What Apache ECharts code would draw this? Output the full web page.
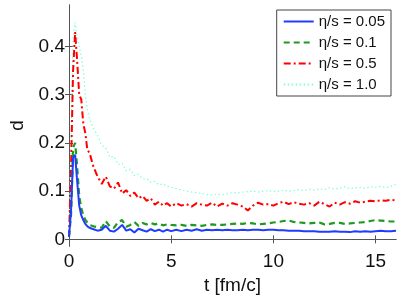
<!DOCTYPE html>
<html>
<head>
<meta charset="utf-8">
<script src="https://cdn.jsdelivr.net/npm/echarts@6/dist/echarts.min.js"></script>
<style>html,body{margin:0;padding:0;background:#fff}#c{width:409px;height:300px}</style>
</head>
<body>
<div id="c"></div>
<script>
const tValues = [
  0, 0.1, 0.2, 0.3, 0.4, 0.5, 0.6, 0.7, 0.8, 0.9, 1.0,
  1.2, 1.4, 1.6, 1.8, 2.0, 2.2, 2.4, 2.6, 2.8, 3.0, 3.2, 3.4, 3.6, 3.8, 4.0, 4.2, 4.4, 4.6, 4.8, 5.0,
  5.25, 5.5, 5.75, 6.0, 6.25, 6.5, 6.75, 7.0, 7.25, 7.5, 7.75, 8.0,
  8.25, 8.5, 8.75, 9.0, 9.25, 9.5, 9.75, 10.0, 10.25, 10.5, 10.75, 11.0,
  11.25, 11.5, 11.75, 12.0, 12.25, 12.5, 12.75, 13.0, 13.25, 13.5, 13.75, 14.0,
  14.25, 14.5, 14.75, 15.0, 15.25, 15.5, 15.75, 16.0
];
const eta005 = [
  0.005, 0.06, 0.17, 0.175, 0.12, 0.07, 0.05, 0.04, 0.032, 0.027, 0.024,
  0.021, 0.018, 0.02, 0.028, 0.018, 0.016, 0.022, 0.03, 0.018, 0.021, 0.014, 0.022, 0.019, 0.016, 0.021, 0.017, 0.02, 0.016, 0.02, 0.017,
  0.02, 0.017, 0.02, 0.018, 0.021, 0.018, 0.02, 0.019, 0.02, 0.019, 0.02, 0.019,
  0.019, 0.02, 0.019, 0.02, 0.02, 0.019, 0.02, 0.02, 0.019, 0.019, 0.018, 0.018,
  0.018, 0.017, 0.017, 0.017, 0.016, 0.016, 0.016, 0.017, 0.016, 0.016, 0.015, 0.017,
  0.016, 0.017, 0.016, 0.017, 0.018, 0.017, 0.017, 0.018
];
const eta01 = [
  0.005, 0.05, 0.19, 0.2, 0.15, 0.09, 0.065, 0.05, 0.04, 0.035, 0.03,
  0.027, 0.025, 0.024, 0.038, 0.026, 0.024, 0.036, 0.04, 0.026, 0.03, 0.036, 0.028, 0.034, 0.031, 0.034, 0.031, 0.033, 0.029, 0.031, 0.03,
  0.029, 0.03, 0.028, 0.03, 0.029, 0.028, 0.03, 0.031, 0.03, 0.03, 0.031, 0.032,
  0.033, 0.032, 0.034, 0.033, 0.031, 0.032, 0.033, 0.035, 0.036, 0.038, 0.039, 0.036,
  0.035, 0.034, 0.033, 0.034, 0.035, 0.031, 0.032, 0.034, 0.034, 0.032, 0.033, 0.034,
  0.035, 0.036, 0.038, 0.04, 0.039, 0.038, 0.037, 0.037
];
const eta05 = [
  0.005, 0.15, 0.35, 0.43, 0.37, 0.3, 0.29, 0.24, 0.22, 0.185, 0.18,
  0.15, 0.13, 0.115, 0.13, 0.11, 0.105, 0.118, 0.095, 0.102, 0.09, 0.097, 0.085, 0.09, 0.08, 0.085, 0.072, 0.078, 0.07, 0.075, 0.068,
  0.075, 0.07, 0.073, 0.068, 0.075, 0.072, 0.07, 0.076, 0.068, 0.074, 0.07, 0.075,
  0.072, 0.068, 0.06, 0.07, 0.076, 0.072, 0.073, 0.07, 0.075, 0.078, 0.073, 0.077,
  0.074, 0.072, 0.075, 0.07, 0.078, 0.073, 0.068, 0.076, 0.072, 0.077, 0.074, 0.079,
  0.076, 0.078, 0.08, 0.079, 0.081, 0.08, 0.082, 0.081
];
const eta10 = [
  0.01, 0.2, 0.42, 0.45, 0.42, 0.40, 0.38, 0.35, 0.3, 0.27, 0.25,
  0.23, 0.215, 0.195, 0.19, 0.17, 0.172, 0.155, 0.158, 0.142, 0.145, 0.132, 0.135, 0.125, 0.126, 0.118, 0.12, 0.113, 0.115, 0.11, 0.108,
  0.105, 0.102, 0.1, 0.098, 0.097, 0.095, 0.093, 0.092, 0.094, 0.092, 0.095, 0.097,
  0.096, 0.098, 0.099, 0.1, 0.098, 0.1, 0.101, 0.099, 0.1, 0.102, 0.1, 0.101,
  0.103, 0.101, 0.104, 0.102, 0.105, 0.103, 0.107, 0.104, 0.106, 0.109, 0.105, 0.107,
  0.108, 0.106, 0.109, 0.108, 0.11, 0.107, 0.11, 0.114
];
const seriesNames = ['η/s = 0.05', 'η/s = 0.1', 'η/s = 0.5', 'η/s = 1.0'];
const xTicks = [0, 5, 10, 15];
const yTicks = [0, 0.1, 0.2, 0.3, 0.4];

const pair = arr => tValues.map((t, i) => [t, arr[i]]);
const font = 'Liberation Sans, Arial, Helvetica, sans-serif';
const tickStyle = vals => ({ show: true, inside: true, length: 4, lineStyle: { color: '#555' }, customValues: vals });
const axisLine = { show: true, lineStyle: { color: '#555', width: 1 } };
const chart = echarts.init(document.getElementById('c'), null, { renderer: 'canvas' });
chart.setOption({
  animation: false,
  backgroundColor: '#fff',
  grid: { left: 58, right: 13, top: 5, bottom: 46, containLabel: false },
  legend: {
    data: seriesNames,
    orient: 'vertical',
    right: 18, top: 10,
    backgroundColor: '#fff',
    borderColor: '#444', borderWidth: 1, borderRadius: 0,
    padding: [4, 6, 4, 6],
    itemWidth: 30, itemHeight: 12, itemGap: 6,
    itemStyle: { opacity: 0 },
    textStyle: { fontFamily: font, fontSize: 15, color: '#111' }
  },
  xAxis: [
    {
      type: 'value', min: 0, max: 16, axisLine, splitLine: { show: false },
      name: 't [fm/c]', nameLocation: 'middle', nameGap: 25,
      nameTextStyle: { fontFamily: font, fontSize: 19, color: '#111' },
      axisTick: tickStyle(xTicks),
      axisLabel: { fontFamily: font, fontSize: 19, color: '#111', margin: 6, customValues: xTicks }
    },
    {
      type: 'value', min: 0, max: 16, position: 'top', axisLine, splitLine: { show: false },
      axisTick: tickStyle(xTicks),
      axisLabel: { show: false }
    }
  ],
  yAxis: [
    {
      type: 'value', min: -0.014, max: 0.486, axisLine, splitLine: { show: false },
      name: 'd', nameLocation: 'middle', nameGap: 42,
      nameTextStyle: { fontFamily: font, fontSize: 19, color: '#111' },
      axisTick: tickStyle(yTicks),
      axisLabel: { fontFamily: font, fontSize: 19, color: '#111', margin: 4, customValues: yTicks }
    },
    {
      type: 'value', min: -0.014, max: 0.486, position: 'right', axisLine, splitLine: { show: false },
      axisTick: tickStyle(yTicks),
      axisLabel: { show: false }
    }
  ],
  series: [
    { name: seriesNames[0], type: 'line', data: pair(eta005), symbol: 'none', z: 5,
      itemStyle: { color: '#1f3cff' }, lineStyle: { color: '#1f3cff', width: 2, type: 'solid' } },
    { name: seriesNames[1], type: 'line', data: pair(eta01), symbol: 'none', z: 4,
      itemStyle: { color: '#1e9a1e' }, lineStyle: { color: '#1e9a1e', width: 2.2, type: [6, 4] } },
    { name: seriesNames[2], type: 'line', data: pair(eta05), symbol: 'none', z: 3,
      itemStyle: { color: '#ff0000' }, lineStyle: { color: '#ff0000', width: 2, type: [7, 3, 2, 3] } },
    { name: seriesNames[3], type: 'line', data: pair(eta10), symbol: 'none', z: 2,
      itemStyle: { color: '#80ffd8' }, lineStyle: { color: '#80ffd8', width: 1.2, type: [1.5, 2.5] } }
  ]
});
</script>
</body>
</html>
